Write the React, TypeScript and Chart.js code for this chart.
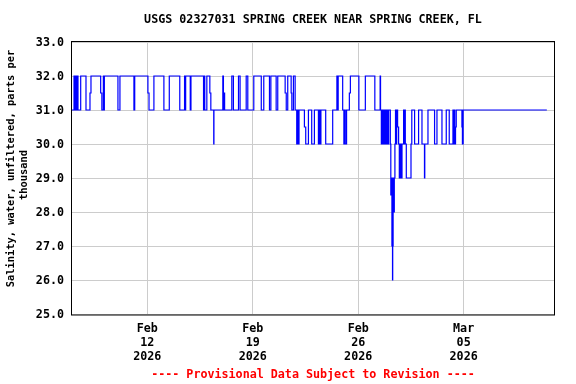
import { useEffect, useRef } from "react";
import { Chart, registerables } from "chart.js";

Chart.register(...registerables);

// ---------- text ----------
const TITLE = "USGS 02327031 SPRING CREEK NEAR SPRING CREEK, FL";
const Y_TITLE = ["Salinity, water, unfiltered, parts per", "thousand"];
const NOTE = "---- Provisional Data Subject to Revision ----";

// ---------- axes ----------
// x values are day numbers counted from Feb 0, 2026 (Mar 1 = day 29)
const X_MIN = 7;
const X_MAX = 39;
const TICK_DAYS = [12, 19, 26, 33];
const TICK_LABELS = [
  ["Feb", "12", "2026"],
  ["Feb", "19", "2026"],
  ["Feb", "26", "2026"],
  ["Mar", "05", "2026"],
];
const Y_MIN = 25;
const Y_MAX = 33;

// ---------- series: day at which the reading changes, and the new reading ----------
const CHANGE_DAYS = [
  7.0, 7.133, 7.213, 7.246, 7.299, 7.345, 7.398, 7.577, 7.929, 8.194, 8.26, 8.903, 8.983, 9.082, 9.115, 9.148,
  10.05, 10.183, 11.111, 11.164, 12.04, 12.113, 12.438, 13.101, 13.459, 14.155, 14.473, 14.513, 14.546, 14.851,
  14.898, 15.733, 15.773, 15.813, 15.952, 16.151, 16.217, 16.41, 16.423, 17.013, 17.053, 17.08, 17.132, 17.61,
  17.716, 18.054, 18.16, 18.565, 18.671, 19.069, 19.566, 19.732, 20.11, 20.203, 20.554, 20.66, 21.151, 21.224,
  21.323, 21.549, 21.595, 21.701, 21.814, 21.92, 21.967, 22.006, 22.072, 22.43, 22.517, 22.696, 22.914, 23.093,
  23.359, 23.412, 23.459, 23.525, 23.843, 24.307, 24.586, 24.632, 24.672, 24.97, 25.05, 25.103, 25.142, 25.229,
  25.414, 25.481, 26.045, 26.475, 27.105, 27.457, 27.484, 27.537, 27.576, 27.616, 27.656, 27.696, 27.735, 27.775,
  27.815, 27.855, 27.895, 27.934, 27.974, 28.021, 28.133, 28.166, 28.213, 28.239, 28.279, 28.292, 28.319, 28.352,
  28.398, 28.438, 28.478, 28.518, 28.557, 28.617, 28.683, 28.73, 28.77, 28.809, 28.849, 28.889, 28.909, 29.015,
  29.055, 29.095, 29.128, 29.194, 29.506, 29.559, 29.745, 30.01, 30.235, 30.401, 30.421, 30.633, 31.071, 31.23,
  31.562, 31.847, 32.045, 32.291, 32.33, 32.37, 32.41, 32.463, 32.51, 32.887, 32.92, 32.967, 38.524,
];
const SALINITY = [
  31, 32, 31, 32, 31, 32, 31, 32, 31, 31.5, 32, 31.5, 31, 32, 31, 32,
  31, 32, 31, 32, 31.5, 31, 32, 31, 32, 31, 32, 31, 32, 31,
  32, 31, 32, 31, 32, 31.5, 31, 30, 31, 32, 31, 31.5, 31, 32,
  31, 32, 31, 32, 31, 32, 31, 32, 31, 32, 31, 32, 31.5, 31,
  32, 31.5, 31, 32, 31, 30, 31, 30, 31, 30.5, 30, 31, 30, 31,
  30, 31, 30, 31, 30, 31, 32, 31, 32, 31, 30, 31, 30, 31,
  31.5, 32, 31, 32, 31, 32, 31, 30, 31, 30.5, 30, 31, 30, 31,
  30, 31, 30, 31, 30, 31, 30, 28.5, 29, 27, 26, 27, 29, 28,
  29, 30, 31, 30, 31, 30.5, 30, 29, 30, 29, 30, 29, 30, 31,
  30, 31, 30, 29, 30, 31, 30, 31, 30, 29, 30, 31, 30, 31,
  30, 31, 30, 31, 30, 31, 30, 30.5, 31, 30.5, 30, 31, 31,
];

const FONT = "'DejaVu Sans Mono', monospace";

const framePlugin = {
  id: "frame",
  afterDatasetsDraw(chart: any) {
    const { ctx, chartArea: a } = chart;
    ctx.save();
    ctx.strokeStyle = "#000000";
    ctx.lineWidth = 1;
    ctx.strokeRect(a.left - 0.5, a.top - 0.5, a.right - a.left + 1, a.bottom - a.top + 1.5);
    ctx.restore();
  },
};

// y-axis title, two rotated lines, each centred as in the reference
const yTitlePlugin = {
  id: "yTitle",
  afterDraw(chart: any) {
    const { ctx, chartArea: a } = chart;
    const mid = (a.top + a.bottom) / 2;
    ctx.save();
    ctx.fillStyle = "#000000";
    ctx.font = `bold 10.4px ${FONT}`;
    ctx.textAlign = "center";
    ctx.textBaseline = "middle";
    const places = [
      { x: 11, y: mid - 9.5 },
      { x: 24, y: mid - 3 },
    ];
    Y_TITLE.forEach((line, i) => {
      ctx.save();
      ctx.translate(places[i].x, places[i].y);
      ctx.rotate(-Math.PI / 2);
      ctx.fillText(line, 0, 0);
      ctx.restore();
    });
    ctx.restore();
  },
};

export default function App() {
  const ref = useRef<HTMLCanvasElement>(null);

  useEffect(() => {
    document.body.style.margin = "0";
    const points = CHANGE_DAYS.map((d, i) => ({ x: d, y: SALINITY[i] }));
    const chart = new Chart(ref.current as HTMLCanvasElement, {
      type: "line",
      data: {
        datasets: [
          {
            data: points,
            stepped: true,
            borderColor: "#0000ff",
            borderWidth: 1.2,
            pointRadius: 0,
            fill: false,
          },
        ],
      },
      options: {
        animation: false,
        responsive: false,
        devicePixelRatio: 1,
        layout: { padding: { left: 0, right: 22, top: 0, bottom: 0 } },
        plugins: {
          legend: { display: false },
          tooltip: { enabled: false },
          title: {
            display: true,
            fullSize: false,
            text: TITLE,
            color: "#000000",
            font: { family: FONT, size: 11.7, weight: "bold", lineHeight: "14px" },
            padding: { top: 12.5, bottom: 15.5 },
          },
          subtitle: {
            display: true,
            fullSize: false,
            position: "bottom",
            text: NOTE,
            color: "#ff0000",
            font: { family: FONT, size: 11.7, weight: "bold", lineHeight: "14px" },
            padding: { top: 0, bottom: 2 },
          },
        },
        scales: {
          x: {
            type: "linear",
            min: X_MIN,
            max: X_MAX,
            afterBuildTicks: (scale: any) => {
              scale.ticks = TICK_DAYS.map((v) => ({ value: v }));
            },
            afterFit: (scale: any) => {
              scale.height = 54;
            },
            grid: { color: "#cccccc", lineWidth: 1, drawTicks: false },
            border: { display: false },
            ticks: {
              autoSkip: false,
              maxRotation: 0,
              padding: 8,
              color: "#000000",
              font: { family: FONT, size: 11.7, weight: "bold", lineHeight: "14px" },
              callback: (v: any) => {
                const i = TICK_DAYS.indexOf(Number(v));
                return i >= 0 ? TICK_LABELS[i] : "";
              },
            },
          },
          y: {
            type: "linear",
            min: Y_MIN,
            max: Y_MAX,
            afterFit: (scale: any) => {
              scale.width = 72;
            },
            grid: { color: "#cccccc", lineWidth: 1, drawTicks: false },
            border: { display: false },
            title: { display: false },
            ticks: {
              stepSize: 1,
              padding: 8,
              labelOffset: 1,
              color: "#000000",
              font: { family: FONT, size: 11.7, weight: "bold" },
              callback: (v: any) => Number(v).toFixed(1),
            },
          },
        },
      },
      plugins: [framePlugin, yTitlePlugin],
    } as any);
    return () => chart.destroy();
  }, []);

  return (
    <canvas
      ref={ref}
      width={576}
      height={384}
      style={{ display: "block", width: "576px", height: "384px" }}
    />
  );
}
